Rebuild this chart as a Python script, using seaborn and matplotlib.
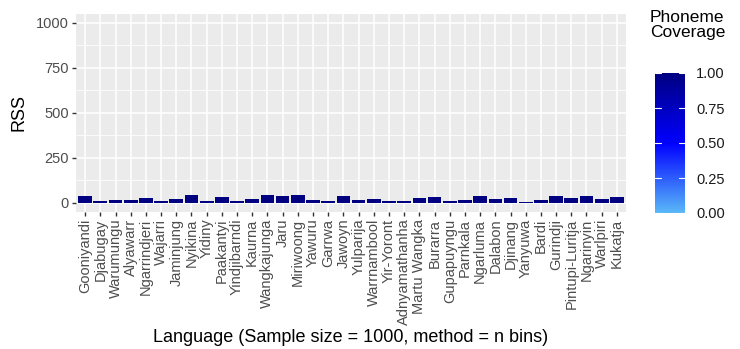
import numpy as np
import pandas as pd
import matplotlib
matplotlib.use("Agg")
import matplotlib.pyplot as plt
import seaborn as sns
from matplotlib.colors import LinearSegmentedColormap, Normalize
from matplotlib.colorbar import ColorbarBase

languages = ["Gooniyandi", "Djabugay", "Warumungu", "Alyawarr", "Ngarrindjeri", "Wajarri",
             "Jaminjung", "Nyikina", "Yidiny", "Paakantyi", "Yindjibarndi", "Kaurna",
             "Wangkajunga", "Jaru", "Miriwoong", "Yawuru", "Garrwa", "Jawoyn",
             "Yulparija", "Warrnambool", "Yir-Yoront", "Adnyamathanha", "Martu Wangka", "Burarra",
             "Gupapuyngu", "Parnkala", "Ngarluma", "Dalabon", "Djinang", "Yanyuwa",
             "Bardi", "Gurindji", "Pintupi-Luritja", "Ngarinyin", "Warlpiri", "Kukatja"]
rss = [35, 10, 15, 15, 25, 8,
       22, 40, 8, 30, 12, 20,
       45, 35, 45, 15, 12, 35,
       15, 20, 12, 12, 25, 32,
       10, 15, 35, 18, 28, 6,
       15, 38, 25, 38, 18, 30]
coverage = [1.0] * len(languages)
cbar_ticks = [0.0, 0.25, 0.5, 0.75, 1.0]

cmap = LinearSegmentedColormap.from_list("cov", ["#5AB8F8", "#0000FF", "#000080"])
norm = Normalize(0, 1)

df = pd.DataFrame({"Language": languages, "RSS": rss, "Coverage": coverage})
palette = {l: cmap(norm(c)) for l, c in zip(languages, coverage)}

sns.set_theme(style="darkgrid")
plt.rcParams['font.family'] = ['Liberation Sans', 'DejaVu Sans']

W, H = 740, 349
fig = plt.figure(figsize=(W / 100, H / 100), dpi=100)

def box(x0, y0, x1, y1):
    return [x0 / W, 1 - y1 / H, (x1 - x0) / W, (y1 - y0) / H]

ax = fig.add_axes(box(76, 13.5, 626, 211.7))
ax.set_facecolor("#EBEBEB")
sns.barplot(data=df, x="Language", y="RSS", hue="Language", palette=palette,
            legend=False, width=0.9, ax=ax, saturation=1, edgecolor="none")
ax.set_xlim(-0.6, len(languages) - 0.4)
ax.set_ylim(-50, 1050)
ax.set_yticks([0, 250, 500, 750, 1000])
ax.set_yticks([125, 375, 625, 875], minor=True)
ax.grid(True, which="major", color="white", linewidth=1.1)
ax.grid(True, which="minor", axis="y", color="white", linewidth=0.55)
ax.set_axisbelow(True)
for s in ax.spines.values():
    s.set_visible(False)
ax.tick_params(axis="both", which="major", length=3, width=1, color="#333333",
               labelsize=10.5, labelcolor="#4D4D4D", pad=2)
ax.tick_params(axis="both", which="minor", length=0)
ax.tick_params(axis="x", bottom=True)
ax.tick_params(axis="y", left=True)
ax.set_xticks(range(len(languages)))
ax.set_xticklabels(languages, rotation=90, ha="center", va="top")
ax.set_xlabel("")
ax.set_ylabel("RSS", fontsize=13, color="black", labelpad=6)
fig.text(351 / W, 1 - 338 / H, "Language (Sample size = 1000, method = n bins)",
         fontsize=13, ha="center", va="center", color="black")

cax = fig.add_axes(box(655, 73, 685, 213))
cb = ColorbarBase(cax, cmap=cmap, norm=norm, orientation="vertical")
cb.outline.set_visible(False)
cb.set_ticks(cbar_ticks)
cb.set_ticklabels(["0.00", "0.25", "0.50", "0.75", "1.00"])
cax.tick_params(axis="y", length=0, labelsize=10.5, labelcolor="#1A1A1A", pad=8)
for t in cbar_ticks:
    cax.plot([0, 0.2], [t, t], color="white", lw=0.8, transform=cax.get_yaxis_transform())
    cax.plot([0.8, 1.0], [t, t], color="white", lw=0.8, transform=cax.get_yaxis_transform())
fig.text(650 / W, 1 - 10 / H, "Phoneme\nCoverage", fontsize=12.5, ha="left", va="top",
         color="black", linespacing=1.0)

fig.savefig("out.png", dpi=100)
